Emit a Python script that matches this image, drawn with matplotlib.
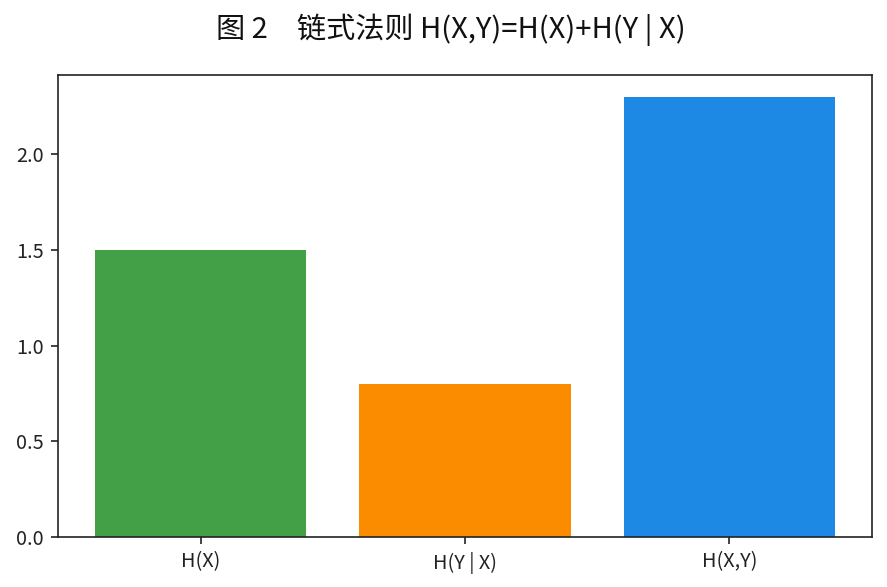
import matplotlib
matplotlib.use("Agg")
import matplotlib.pyplot as plt

categories = ["H(X)", "H(Y | X)", "H(X,Y)"]
values = [1.5, 0.8, 2.3]
colors = ["#43A047", "#FB8C00", "#1E88E5"]
yticks = [0.0, 0.5, 1.0, 1.5, 2.0]
title = "图 2　链式法则 H(X,Y)=H(X)+H(Y | X)"

plt.rcParams['font.family'] = ['Noto Sans CJK SC', 'DejaVu Sans']

fig = plt.figure(figsize=(887/150, 587/150), dpi=150)
ax = fig.add_axes([58/887, 50/587, (872-58)/887, (537-75)/587])
ax.bar(range(len(categories)), values, width=0.8, color=colors)
ax.set_xticks(range(len(categories)))
ax.set_xticklabels(categories)
ax.set_yticks(yticks)
ax.set_yticklabels([f"{v:.1f}" for v in yticks])
ax.tick_params(labelsize=9.5, color="#222222", labelcolor="#222222")
for s in ax.spines.values():
    s.set_color("#222222")
fig.text(451/887, 1 - 30/587, title, ha="center", va="center", fontsize=14,
         fontweight="medium", color="#111111")
fig.savefig("out.png", dpi=150)
